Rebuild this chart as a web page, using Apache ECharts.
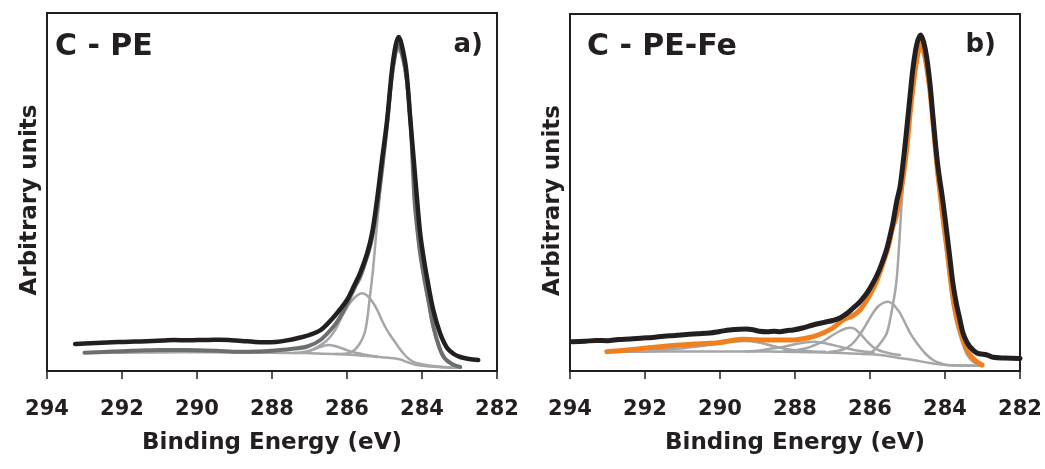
<!DOCTYPE html>
<html>
<head>
<meta charset="utf-8">
<script src="https://cdn.jsdelivr.net/npm/echarts@6/dist/echarts.min.js"></script>
<style>
  html, body { margin: 0; padding: 0; background: #ffffff; }
  #chart { width: 1045px; height: 469px; }
</style>
</head>
<body>
<div id="chart"></div>
<script>
// C 1s XPS spectra, binding energy (eV) vs intensity (arbitrary units)
const xTicks = [294, 292, 290, 288, 286, 284, 282];
const panelTitles = ['C - PE', 'C - PE-Fe'];
const panelTags = ['a)', 'b)'];

// ---- panel a: C - PE ----
const aSpectrum = [[293.25,27],[293.0,27.6],[292.7,27.9],[292.4,28.4],[292.1,28.9],[291.8,29.3],[291.5,29.5],[291.2,29.9],[290.9,30.4],[290.6,31],[290.3,30.7],[290.0,30.9],[289.7,31.1],[289.4,31.2],[289.1,30.8],[288.8,30.1],[288.5,29.2],[288.2,28.7],[287.9,29.1],[287.6,30.6],[287.3,33],[287.0,36],[286.7,41],[286.4,52],[286.2,61],[286.0,71],[285.8,86],[285.65,98],[285.46,118],[285.33,138],[285.2,171],[285.07,210],[284.93,251],[284.8,301],[284.7,326],[284.62,334],[284.54,326],[284.42,301],[284.31,251],[284.22,211],[284.13,171],[284.05,138],[283.96,114],[283.87,94],[283.7,61],[283.52,38],[283.33,23],[283.15,17],[282.98,14],[282.75,12],[282.5,11]];
const aEnvelope = [[293.0,18.3],[292.5,19],[292.0,19.8],[291.5,20.5],[291.0,21],[290.6,21],[290.0,20.8],[289.5,20.3],[288.84,19.3],[288.4,19.5],[288.0,20.3],[287.5,22],[287.06,24.5],[286.71,31],[286.37,44],[286.2,53],[285.99,68],[285.8,83],[285.65,94],[285.5,110],[285.35,130],[285.2,163],[285.07,200],[284.95,240],[284.82,290],[284.72,315],[284.64,326],[284.55,320],[284.42,296],[284.3,245],[284.2,171],[284.12,140],[284.05,118],[283.95,95],[283.83,71],[283.7,45],[283.54,24],[283.4,13],[283.2,7],[282.98,4]];
const aPeakCC = [[286.3,17],[286.0,17.5],[285.8,21],[285.65,28],[285.53,38],[285.46,52],[285.4,71],[285.31,100],[285.22,138],[285.12,178],[285.0,228],[284.87,278],[284.75,308],[284.64,321],[284.55,316],[284.42,290],[284.3,238],[284.2,168],[284.12,137],[284.05,115],[283.95,91],[283.83,67],[283.7,42],[283.54,22],[283.4,12],[283.2,6.5],[282.98,4]];
const aPeakCO = [[287.2,18],[287.0,20],[286.79,24],[286.6,28.5],[286.45,34],[286.3,42],[286.18,51],[286.05,60],[285.92,68],[285.78,74],[285.6,77.7],[285.45,75],[285.3,68],[285.18,60],[285.06,50],[284.95,42],[284.85,36],[284.7,28],[284.58,21.5],[284.45,15.5],[284.31,11],[284.15,8],[283.96,6.5],[283.7,5],[283.4,4],[282.98,3.2]];
const aPeakCOC = [[287.4,18],[287.2,18.8],[287.0,20.3],[286.8,22.8],[286.65,24.8],[286.5,26],[286.35,25.3],[286.2,23.5],[286.0,20.8],[285.8,18.5],[285.6,17],[285.4,15.6],[285.2,14.6]];
const aBackground = [[293.0,18],[292.0,18.3],[291.0,18.6],[290.0,18.7],[289.0,18.5],[288.0,18.2],[287.2,17.9],[286.8,17.6],[286.3,17],[285.8,16],[285.3,14.5],[284.9,13.3],[284.6,11.8],[284.4,9],[284.15,6],[283.87,4.7],[283.5,3.7],[282.98,3.2]];

// ---- panel b: C - PE-Fe ----
const bSpectrum = [[293.95,29.3],[293.6,29.8],[293.3,30.5],[293.0,30.3],[292.7,31.5],[292.4,32],[292.05,33],[291.8,33.5],[291.5,34.8],[291.2,35.5],[290.9,36.5],[290.6,37.2],[290.27,38],[290.0,39.5],[289.75,41],[289.47,41.8],[289.3,41.9],[289.12,41.2],[288.95,39.8],[288.75,39.3],[288.55,39.8],[288.4,39.3],[288.2,40.5],[288.05,41],[287.8,43],[287.52,46],[287.3,48],[287.15,49.3],[286.99,50.5],[286.8,53],[286.61,57.7],[286.45,63],[286.3,68],[286.19,72.7],[286.08,78],[285.95,86],[285.81,96],[285.68,108],[285.55,122.5],[285.45,138],[285.39,148],[285.28,171],[285.2,184],[285.1,214],[285.01,246],[284.93,276],[284.85,304],[284.75,327],[284.65,336],[284.57,329],[284.49,314],[284.4,287],[284.32,254],[284.2,208],[284.05,168],[283.95,138],[283.87,113],[283.79,88],[283.7,68],[283.6,51],[283.52,38],[283.42,29],[283.33,24],[283.15,18],[282.88,16],[282.72,13.7],[282.4,13],[282.0,12.5]];
const bEnvelope = [[293.02,19.3],[292.6,20.5],[292.2,22],[291.6,24.3],[291.07,26],[290.7,27],[290.27,27.7],[290.0,28.5],[289.7,30.5],[289.39,31.7],[289.1,31.3],[288.93,31],[288.4,31],[288.05,31],[287.75,32.5],[287.52,34.3],[287.25,38],[286.99,43],[286.72,51],[286.45,55.5],[286.27,61],[286.08,71],[285.92,82],[285.81,91],[285.65,108],[285.5,126],[285.4,143],[285.3,155],[285.2,175],[285.1,198],[285.0,230],[284.93,258],[284.85,285],[284.78,305],[284.72,318],[284.65,329],[284.56,320],[284.48,302],[284.4,280],[284.3,240],[284.2,200],[284.13,178],[284.05,152],[283.95,124],[283.87,98],[283.79,74],[283.7,55],[283.6,41],[283.5,29],[283.41,21],[283.33,16],[283.22,11.5],[283.15,9.3],[283.01,6]];
const bPeakCC = [[286.2,17],[286.0,18],[285.81,24],[285.68,30],[285.55,38],[285.42,60],[285.3,88],[285.22,128],[285.15,171],[285.05,215],[284.97,248],[284.85,285],[284.75,310],[284.65,321],[284.56,313],[284.48,296],[284.4,274],[284.3,233],[284.2,193],[284.13,170],[284.05,143],[283.95,113],[283.87,88],[283.79,66],[283.7,49],[283.6,35],[283.5,24],[283.41,16],[283.3,11],[283.2,8],[283.07,5.5]];
const bPeakCO = [[287.1,19],[286.9,20],[286.72,21.5],[286.58,24],[286.45,28],[286.32,34],[286.19,41],[286.05,50],[285.92,58],[285.8,64],[285.65,68],[285.51,69.3],[285.38,66.5],[285.28,62],[285.2,58],[285.05,47],[284.93,38],[284.8,30.5],[284.67,24],[284.5,16.5],[284.32,11],[284.15,8],[283.95,6],[283.6,5.5],[283.07,5.3]];
const bPeakCOC = [[288.3,19.5],[288.13,20],[287.9,21.3],[287.68,23],[287.5,25.5],[287.33,28],[287.15,32],[286.99,36],[286.8,40],[286.65,42.5],[286.53,43.3],[286.4,42],[286.19,34.3],[286.05,28.5],[285.92,24],[285.78,21],[285.65,19.3],[285.4,17],[285.2,16]];
const bPeakCeqO = [[289.3,19.5],[288.93,20.5],[288.6,22.5],[288.4,23.5],[288.15,25.5],[287.9,27.5],[287.7,28.8],[287.52,29.3],[287.3,28.5],[287.05,26.5],[286.8,24.3],[286.55,22],[286.27,20],[285.9,18.5]];
const bPeakOCO = [[291.9,20.5],[291.5,21.3],[290.93,23],[290.5,25],[290.1,27],[289.7,29],[289.35,30],[289.0,28.8],[288.59,25],[288.3,22.5],[288.05,21],[287.6,19.8],[287.2,19.3]];
const bBackground = [[293.02,19],[292.0,19.3],[291.0,19.5],[290.0,19.6],[289.0,19.5],[288.4,19.3],[287.5,18.8],[287.0,18.3],[286.5,17.5],[286.0,16.8],[285.73,16],[285.3,13.5],[284.85,11],[284.4,8],[283.95,6],[283.5,5.5],[283.07,5.3]];

const FONT = '"DejaVu Sans", sans-serif';
const INK = '#231f20';
const DARK_GREY = '#6d6e71';
const LIGHT_GREY = '#a4a6a9';
const ORANGE = '#f0801f';

const chart = echarts.init(document.getElementById('chart'), null, { renderer: 'canvas' });

function curve(data, axisIndex, color, width, z) {
  return {
    type: 'line',
    data: data,
    xAxisIndex: axisIndex,
    yAxisIndex: axisIndex,
    showSymbol: false,
    symbol: 'none',
    smooth: 0.35,
    lineStyle: { color: color, width: width, cap: 'round', join: 'round' },
    z: z,
    silent: true
  };
}

function xAxis(gridIndex) {
  return {
    type: 'value',
    gridIndex: gridIndex,
    min: 282,
    max: 294,
    interval: 2,
    inverse: true,
    name: 'Binding Energy (eV)',
    nameLocation: 'middle',
    nameGap: 61,
    nameTextStyle: { fontFamily: FONT, fontWeight: 'bold', fontSize: 23, color: INK },
    axisLine: { show: false },
    axisTick: { show: true, inside: false, length: 8, lineStyle: { color: INK, width: 1.5 } },
    axisLabel: {
      show: true, margin: 28, fontFamily: FONT, fontWeight: 'bold', fontSize: 21, color: INK,
      formatter: v => xTicks.includes(v) ? String(v) : ''
    },
    splitLine: { show: false }
  };
}

function yAxis(gridIndex, max) {
  return {
    type: 'value',
    gridIndex: gridIndex,
    min: 0,
    max: max,
    name: 'Arbitrary units',
    nameLocation: 'middle',
    nameGap: 5,
    nameTextStyle: { fontFamily: FONT, fontWeight: 'bold', fontSize: 23, color: INK, padding: [0, 16, 0, 0] },
    axisLine: { show: false },
    axisTick: { show: false },
    axisLabel: { show: false },
    splitLine: { show: false }
  };
}

const frame = { show: true, borderColor: INK, borderWidth: 2, backgroundColor: 'transparent' };

chart.setOption({
  animation: false,
  backgroundColor: '#ffffff',
  grid: [
    Object.assign({ left: 47, right: 548, top: 13, bottom: 98 }, frame),
    Object.assign({ left: 570, right: 25, top: 14, bottom: 98 }, frame)
  ],
  xAxis: [xAxis(0), xAxis(1)],
  yAxis: [yAxis(0, 358), yAxis(1, 357)],
  series: [
    curve(aBackground, 0, LIGHT_GREY, 2.5, 2),
    curve(aPeakCOC, 0, LIGHT_GREY, 2.5, 2),
    curve(aPeakCO, 0, LIGHT_GREY, 2.5, 2),
    curve(aPeakCC, 0, LIGHT_GREY, 2.5, 2),
    curve(aEnvelope, 0, DARK_GREY, 4, 3),
    curve(aSpectrum, 0, INK, 4.5, 4),

    curve(bBackground, 1, LIGHT_GREY, 2.5, 2),
    curve(bPeakOCO, 1, LIGHT_GREY, 2.5, 2),
    curve(bPeakCeqO, 1, LIGHT_GREY, 2.5, 2),
    curve(bPeakCOC, 1, LIGHT_GREY, 2.5, 2),
    curve(bPeakCO, 1, LIGHT_GREY, 2.5, 2),
    curve(bPeakCC, 1, LIGHT_GREY, 2.5, 2),
    curve(bEnvelope, 1, ORANGE, 5, 3),
    curve(bSpectrum, 1, INK, 5, 4)
  ],
  graphic: [
    { type: 'text', left: 55, top: 32, style: { text: panelTitles[0], font: 'bold 30px ' + FONT, fill: INK } },
    { type: 'text', right: 1045 - 483, top: 32, style: { text: panelTags[0], font: 'bold 26px ' + FONT, fill: INK } },
    { type: 'text', left: 587, top: 32, style: { text: panelTitles[1], font: 'bold 30px ' + FONT, fill: INK } },
    { type: 'text', right: 1045 - 996, top: 32, style: { text: panelTags[1], font: 'bold 26px ' + FONT, fill: INK } }
  ]
});
</script>
</body>
</html>
